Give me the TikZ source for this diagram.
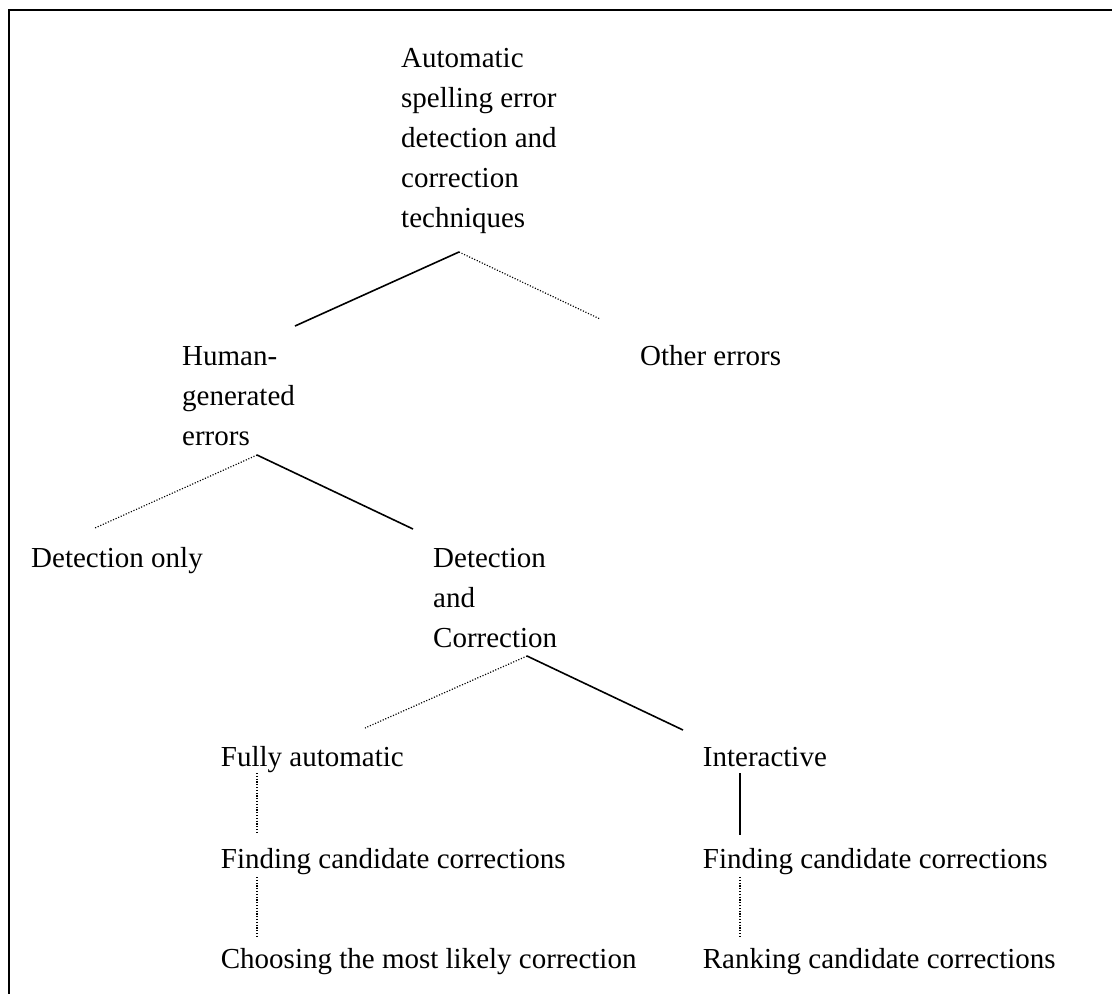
\documentclass[tikz,border=0pt]{standalone}
\usepackage{fontspec}
\setmainfont{Liberation Serif}
\begin{document}
\begin{tikzpicture}[x=1pt,y=-1pt,
  lbl/.style={anchor=north west,inner sep=0pt,align=left,font=\fontsize{29}{40}\selectfont},
  solidline/.style={line width=1.6pt},
  dotline/.style={line width=1.2pt,dash pattern=on 1.1pt off 1.7pt},
  frame/.style={line width=1.6pt}]
\useasboundingbox (0,0) rectangle (1112,994);
\draw[frame] (1112,10) -- (9,10) -- (9,994);
% text nodes (north = first baseline - 28)
\newcommand{\sx}{\rule{0pt}{28pt}}
\node[lbl] (top) at (401,39) {\sx Automatic\\spelling error\\detection and\\correction\\techniques};
\node[lbl] (human) at (182,337) {\sx Human-\\generated\\errors};
\node[lbl] (other) at (640,337) {\sx Other errors};
\node[lbl] (donly) at (31,539) {\sx Detection only};
\node[lbl] (dcorr) at (433,539) {\sx Detection\\and\\Correction};
\node[lbl] (fully) at (220.7,738) {\sx Fully automatic};
\node[lbl] (inter) at (702.7,738) {\sx Interactive};
\node[lbl] (find1) at (220.7,840) {\sx Finding candidate corrections};
\node[lbl] (choose) at (220.7,940) {\sx Choosing the most likely correction};
\node[lbl] (find2) at (702.7,840) {\sx Finding candidate corrections};
\node[lbl] (rank) at (702.7,940) {\sx Ranking candidate corrections};
% connector end points
\coordinate (top-o) at (459,252);
\coordinate (human-i) at (295,326);
\coordinate (other-i) at (600,319);
\coordinate (human-o) at (257,455);
\coordinate (donly-i) at (95,528);
\coordinate (dcorr-i) at (413,529);
\coordinate (dcorr-o) at (527,656);
\coordinate (fully-i) at (365,728);
\coordinate (inter-i) at (683,730);
\coordinate (fully-o) at (257,773);
\coordinate (find1-i) at (257,832);
\coordinate (find1-o) at (257,877);
\coordinate (choose-i) at (257,937);
\coordinate (inter-o) at (740,773);
\coordinate (find2-i) at (740,835);
\coordinate (find2-o) at (740,877);
\coordinate (rank-i) at (740,937);
% connectors
\draw[solidline] (top-o) -- (human-i);
\draw[dotline] (top-o) -- (other-i);
\draw[dotline] (human-o) -- (donly-i);
\draw[solidline] (human-o) -- (dcorr-i);
\draw[dotline] (dcorr-o) -- (fully-i);
\draw[solidline] (dcorr-o) -- (inter-i);
\draw[dotline] (fully-o) -- (find1-i);
\draw[dotline] (find1-o) -- (choose-i);
\draw[solidline] (inter-o) -- (find2-i);
\draw[dotline] (find2-o) -- (rank-i);
\end{tikzpicture}
\end{document}
